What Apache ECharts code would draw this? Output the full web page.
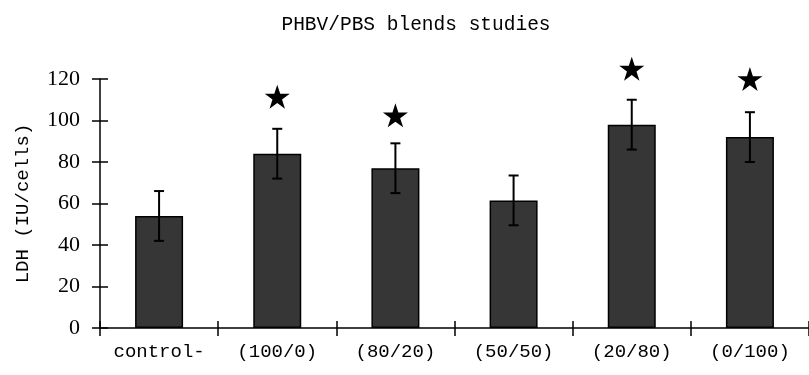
<!DOCTYPE html>
<html>
<head>
<meta charset="utf-8">
<script src="https://cdn.jsdelivr.net/npm/echarts@6/dist/echarts.min.js"></script>
<style>html,body{margin:0;padding:0;background:#fff;}#c{width:809px;height:375px;}</style>
</head>
<body>
<div id="c"></div>
<script>
var categories = ['control-', '(100/0)', '(80/20)', '(50/50)', '(20/80)', '(0/100)'];
var ldhValues = [54, 84, 77, 61.5, 98, 92];
var ldhErrors = [12, 12, 12, 12, 12, 12];
var starValues = [null, 111.5, 102.5, null, 125, 120];
var yTicks = [0, 20, 40, 60, 80, 100, 120];

var STAR = 'path://M100,0 L122.5,69.1 L195.1,69.1 L136.3,111.8 L158.8,180.9 L100,138.2 L41.2,180.9 L63.7,111.8 L4.9,69.1 L77.5,69.1 Z';

var errData = categories.map(function (c, i) { return [i, ldhValues[i] - ldhErrors[i], ldhValues[i] + ldhErrors[i]]; });
var starData = categories.map(function (c, i) { return starValues[i] == null ? [i, '-'] : [i, starValues[i]]; });

var chart = echarts.init(document.getElementById('c'), null, {renderer: 'canvas'});
var axisLineStyle = {color: '#000', width: 1.5};
chart.setOption({
  animation: false,
  backgroundColor: '#fff',
  title: {
    text: 'PHBV/PBS blends studies',
    left: 411, top: 10, textAlign: 'center',
    textStyle: {fontFamily: 'Liberation Mono', fontSize: 19.5, fontWeight: 'normal', color: '#000'}
  },
  grid: {left: 100, right: -8, top: 79, bottom: 47},
  xAxis: [{
    type: 'category', data: categories, position: 'bottom',
    axisLine: {lineStyle: axisLineStyle},
    axisTick: {show: true, length: 8, lineStyle: axisLineStyle},
    axisLabel: {color: '#000', fontFamily: 'Liberation Mono', fontSize: 19, margin: 14, interval: 0},
    splitLine: {show: false}
  }, {
    type: 'category', data: categories, position: 'bottom',
    axisLine: {show: false},
    axisTick: {show: true, inside: true, length: 7, lineStyle: axisLineStyle},
    axisLabel: {show: false},
    splitLine: {show: false}
  }],
  yAxis: [{
    type: 'value', min: 0, max: 120, interval: 20, position: 'left',
    name: 'LDH (IU/cells)', nameLocation: 'middle', nameGap: 68, nameRotate: 90,
    nameTextStyle: {color: '#000', fontFamily: 'Liberation Mono', fontSize: 19},
    axisLine: {show: true, lineStyle: axisLineStyle},
    axisTick: {show: true, length: 8, lineStyle: axisLineStyle},
    axisLabel: {color: '#000', fontFamily: 'Liberation Serif', fontSize: 22, margin: 20,
      formatter: function (v) { return yTicks.indexOf(v) >= 0 ? String(v) : ''; }},
    splitLine: {show: false}
  }, {
    type: 'value', min: 0, max: 120, interval: 20, position: 'left',
    axisLine: {show: false},
    axisTick: {show: true, inside: true, length: 8, lineStyle: axisLineStyle},
    axisLabel: {show: false},
    splitLine: {show: false}
  }],
  series: [{
    type: 'bar', data: ldhValues, barWidth: 48,
    itemStyle: {color: '#363636', borderColor: '#000', borderWidth: 1.5}
  }, {
    type: 'custom', data: errData, clip: false, z: 5,
    renderItem: function (params, api) {
      var lo = api.coord([api.value(0), api.value(1)]);
      var hi = api.coord([api.value(0), api.value(2)]);
      var w = 5;
      var st = {stroke: '#000', lineWidth: 2};
      return {type: 'group', children: [
        {type: 'line', shape: {x1: hi[0], y1: hi[1], x2: lo[0], y2: lo[1]}, style: st},
        {type: 'line', shape: {x1: hi[0] - w, y1: hi[1], x2: hi[0] + w, y2: hi[1]}, style: st},
        {type: 'line', shape: {x1: lo[0] - w, y1: lo[1], x2: lo[0] + w, y2: lo[1]}, style: st}
      ]};
    }
  }, {
    type: 'scatter', data: starData, clip: false, symbol: STAR, symbolSize: [25, 24],
    itemStyle: {color: '#000', opacity: 1}, z: 6
  }]
});
</script>
</body>
</html>
